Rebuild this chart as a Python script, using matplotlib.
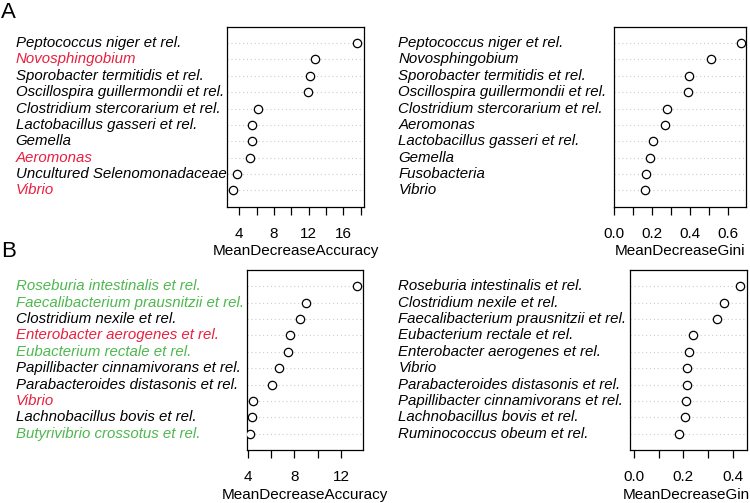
import matplotlib
matplotlib.use('Agg')
import matplotlib.pyplot as plt
from matplotlib.transforms import blended_transform_factory

plt.rcParams['font.family'] = ['Liberation Sans', 'DejaVu Sans']

RED = '#e8203f'
GREEN = '#4db84d'
BLACK = 'black'

# ---- Panel A, left: MeanDecreaseAccuracy (top row first)
a_acc_names = ['Peptococcus niger et rel.', 'Novosphingobium', 'Sporobacter termitidis et rel.',
               'Oscillospira guillermondii et rel.', 'Clostridium stercorarium et rel.',
               'Lactobacillus gasseri et rel.', 'Gemella', 'Aeromonas',
               'Uncultured Selenomonadaceae', 'Vibrio']
a_acc_vals = [17.6, 12.77, 12.19, 11.93, 6.19, 5.43, 5.43, 5.27, 3.70, 3.31]
a_acc_cols = [BLACK, RED, BLACK, BLACK, BLACK, BLACK, BLACK, RED, BLACK, RED]

# ---- Panel A, right: MeanDecreaseGini
a_gini_names = ['Peptococcus niger et rel.', 'Novosphingobium', 'Sporobacter termitidis et rel.',
                'Oscillospira guillermondii et rel.', 'Clostridium stercorarium et rel.',
                'Aeromonas', 'Lactobacillus gasseri et rel.', 'Gemella', 'Fusobacteria', 'Vibrio']
a_gini_vals = [0.671, 0.511, 0.395, 0.389, 0.279, 0.268, 0.207, 0.188, 0.166, 0.164]

# ---- Panel B, left: MeanDecreaseAccuracy
b_acc_names = ['Roseburia intestinalis et rel.', 'Faecalibacterium prausnitzii et rel.',
               'Clostridium nexile et rel.', 'Enterobacter aerogenes et rel.',
               'Eubacterium rectale et rel.', 'Papillibacter cinnamivorans et rel.',
               'Parabacteroides distasonis et rel.', 'Vibrio', 'Lachnobacillus bovis et rel.',
               'Butyrivibrio crossotus et rel.']
b_acc_vals = [13.37, 9.0, 8.46, 7.63, 7.43, 6.66, 6.06, 4.45, 4.34, 4.23]
b_acc_cols = [GREEN, GREEN, BLACK, RED, GREEN, BLACK, BLACK, RED, BLACK, GREEN]

# ---- Panel B, right: MeanDecreaseGini
b_gini_names = ['Roseburia intestinalis et rel.', 'Clostridium nexile et rel.',
                'Faecalibacterium prausnitzii et rel.', 'Eubacterium rectale et rel.',
                'Enterobacter aerogenes et rel.', 'Vibrio', 'Parabacteroides distasonis et rel.',
                'Papillibacter cinnamivorans et rel.', 'Lachnobacillus bovis et rel.',
                'Ruminococcus obeum et rel.']
b_gini_vals = [0.430, 0.365, 0.338, 0.240, 0.223, 0.216, 0.213, 0.209, 0.207, 0.182]

W, H = 750, 503
fig = plt.figure(figsize=(W / 100, H / 100), dpi=100)


def px_axes(x0, x1, y0, y1):
    # pixel box (top-left origin) -> figure fraction axes
    return fig.add_axes([x0 / W, 1 - y1 / H, (x1 - x0) / W, (y1 - y0) / H])


def dotpanel(ax, names, vals, cols, xlim, ticks, labels, xlabel, text_x):
    n = len(vals)
    ys = [n - i for i in range(n)]
    for y in ys:
        ax.axhline(y, color='#cccccc', lw=0.8, ls=(0, (1, 2.5)), zorder=1)
    ax.plot(vals, ys, 'o', mfc='white', mec='black', ms=6, mew=0.9, ls='none', zorder=3)
    ax.set_xlim(*xlim)
    ax.set_ylim(0, n + 1)
    ax.set_yticks([])
    ax.set_xticks(ticks)
    ax.set_xticklabels(labels)
    ax.tick_params(axis='x', direction='out', length=6, width=0.9, pad=8.5, labelsize=11)
    for s in ax.spines.values():
        s.set_linewidth(0.9)
    ax.set_xlabel(xlabel, fontsize=11, labelpad=2.5)
    tr = blended_transform_factory(fig.transFigure, ax.transData)
    for name, col, y in zip(names, cols, ys):
        ax.text(text_x / W, y, name, transform=tr, ha='left', va='center',
                fontsize=10.8, style='italic', color=col)


ax1 = px_axes(227.3, 364, 26.7, 206.7)
dotpanel(ax1, a_acc_names, a_acc_vals, a_acc_cols, (2.62, 18.38),
         [4, 6, 8, 10, 12, 14, 16, 18], ['4', '', '8', '', '12', '', '16', ''],
         'MeanDecreaseAccuracy', 15.7)

ax2 = px_axes(614.3, 746, 26.7, 206.7)
dotpanel(ax2, a_gini_names, a_gini_vals, [BLACK] * 10, (0.0, 0.698),
         [0, 0.1, 0.2, 0.3, 0.4, 0.5, 0.6], ['0.0', '', '0.2', '', '0.4', '', '0.6'],
         'MeanDecreaseGini', 398.3)

ax3 = px_axes(246.7, 362.7, 270, 450)
dotpanel(ax3, b_acc_names, b_acc_vals, b_acc_cols, (3.91, 13.86),
         [4, 6, 8, 10, 12], ['4', '', '8', '', '12'],
         'MeanDecreaseAccuracy', 15.7)

ax4 = px_axes(630, 746.7, 270, 450)
dotpanel(ax4, b_gini_names, b_gini_vals, [BLACK] * 10, (-0.017, 0.457),
         [0, 0.1, 0.2, 0.3, 0.4], ['0.0', '', '0.2', '', '0.4'],
         'MeanDecreaseGini', 398.3)

fig.text(1 / W, 1 - 18 / H, 'A', fontsize=16, va='baseline', ha='left')
fig.text(1 / W, 1 - 257 / H, 'B', fontsize=16, va='baseline', ha='left')

fig.savefig('out.png', dpi=100)
